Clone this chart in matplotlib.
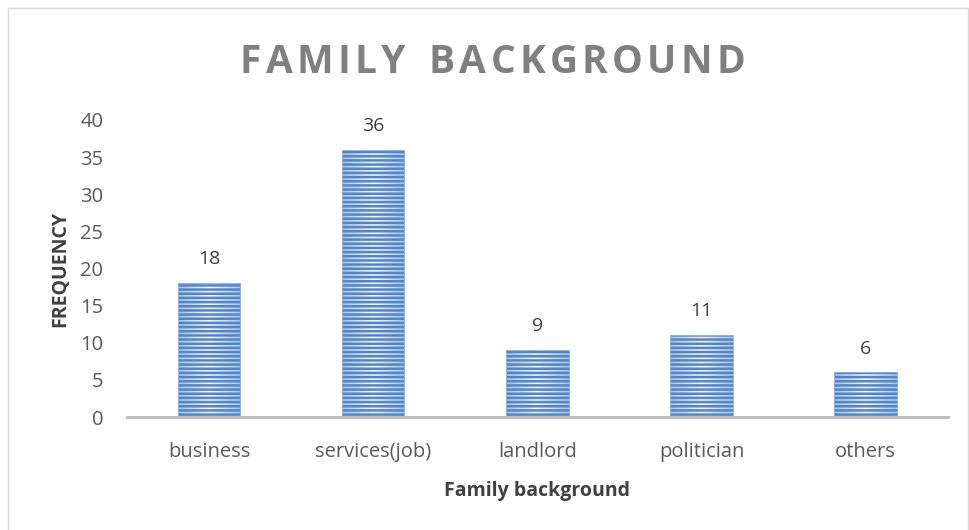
import numpy as np
import matplotlib.pyplot as plt
from matplotlib.patches import Rectangle
from matplotlib.colors import LinearSegmentedColormap

categories = ["business", "services(job)", "landlord", "politician", "others"]
frequency = [18, 36, 9, 11, 6]

plt.rcParams['font.family'] = ['Open Sans', 'DejaVu Sans']

fig = plt.figure(figsize=(9.7, 5.3), dpi=100)
fig.patches.append(Rectangle((0.008, -0.01), 0.990, 0.995, transform=fig.transFigure,
                             fill=False, edgecolor='#d9d9d9', linewidth=1))
ax = fig.add_axes([0.131, 0.2132, 0.846, 0.5604])

x = np.arange(len(categories))
bars = ax.bar(x, frequency, width=0.38, color='none', edgecolor='#8fb0dc',
              linewidth=0.6, hatch='----', zorder=3)

# light centre, darker edges inside each bar
cmap = LinearSegmentedColormap.from_list('g', ['#a9c2e6', '#f2f6fc', '#a9c2e6'])
grad = np.linspace(0, 1, 64).reshape(1, -1)
for b in bars:
    b.set_hatch_linewidth(1.8)
    b._hatch_color = (0.33, 0.52, 0.78, 1.0)
    x0, w, h = b.get_x(), b.get_width(), b.get_height()
    im = ax.imshow(grad, cmap=cmap, extent=[x0, x0 + w, 0, h], aspect='auto', zorder=2)
    im.set_clip_path(b)

for xi, v in zip(x, frequency):
    ax.text(xi, v + 2.0, str(v), ha='center', va='bottom', fontsize=14, color='#404040')

ax.set_xlim(-0.5, len(categories) - 0.5)
ax.set_ylim(0, 40)
ax.set_yticks(range(0, 41, 5))
ax.set_xticks(x)
ax.set_xticklabels(categories)
ax.tick_params(axis='both', length=0, labelsize=14.5, colors='#595959')
ax.tick_params(axis='y', pad=17)
ax.tick_params(axis='x', pad=18)

for s in ['top', 'right', 'left']:
    ax.spines[s].set_visible(False)
ax.spines['bottom'].set_color('#bfbfbf')
ax.spines['bottom'].set_linewidth(2.2)
ax.spines['bottom'].set_zorder(4)

ax.set_xlabel("Family background", fontsize=14, fontweight='bold', color='#404040', labelpad=14)
ax.set_ylabel("FREQUENCY", fontsize=14, fontweight='bold', color='#404040', labelpad=7)

# title with letter spacing
title = "FAMILY BACKGROUND"
renderer = fig.canvas.get_renderer()
widths = []
for ch in title:
    if ch == ' ':
        widths.append(15.0)
        continue
    t = fig.text(0, 0, ch, fontsize=28, fontweight='bold')
    widths.append(t.get_window_extent(renderer).width)
    t.remove()
left, right = 240, 745
gap = (right - left - sum(widths)) / (len(title) - 1)
pos = left
for ch, w in zip(title, widths):
    if ch != ' ':
        fig.text(pos / 970, 1 - 73 / 530, ch, ha='left', va='baseline', fontsize=28,
                 fontweight='bold', color='#808080')
    pos += w + gap

fig.savefig("out.png", dpi=100)
